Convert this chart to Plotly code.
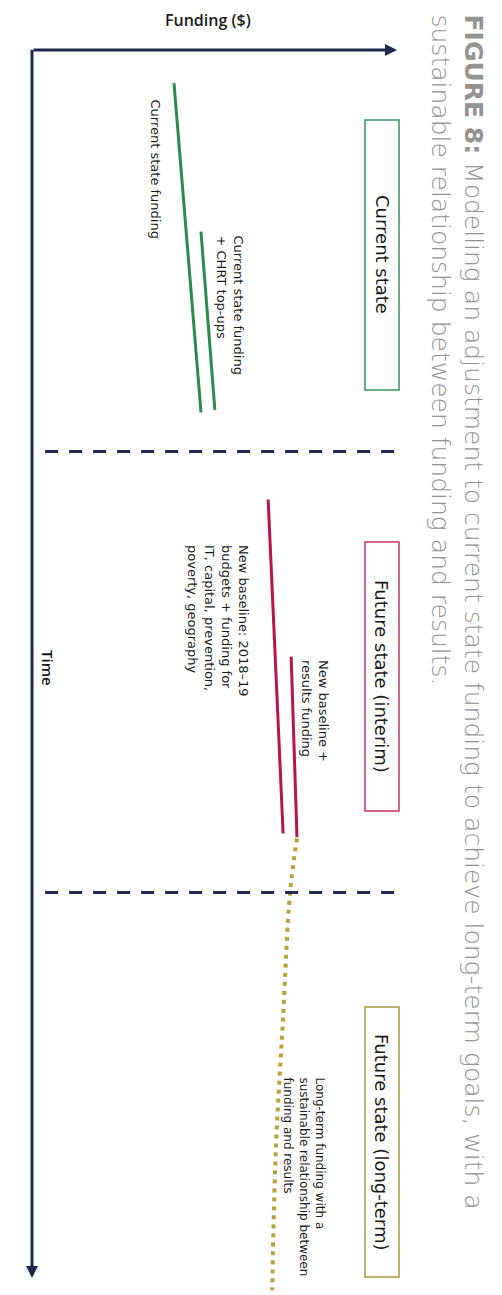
import plotly.graph_objects as go

# funding index (0 = time axis, 100 = arrow tip) vs time index (0 = top, 100 = arrow tip)
current_time = [2.7, 29.5]
current_funding = [38.9, 46.3]
chrt_time = [14.8, 29.3]
chrt_funding = [46.3, 50.1]
baseline_time = [36.6, 63.8]
baseline_funding = [64.7, 68.8]
results_time = [49.4, 64.1]
results_funding = [71.0, 72.6]
longterm_time = [64.2, 68.6, 78.7, 89.6, 101.0]
longterm_funding = [72.6, 70.7, 68.8, 66.8, 65.8]
phase_breaks = [32.7, 68.6]

W, H = 502, 1295
# axis ranges so funding 0..100 -> x 32..397 px, time 0..100 -> y 50..1278 px
fx = 3.65
ty = 12.28
x_range = [-32 / fx, (W - 32) / fx]
y_range = [(H - 50) / ty, -50 / ty]

def px(x):
    return x / W

def py(y):
    return 1 - y / H

NAVY = '#1d2a4b'
GREEN = '#2b8a4c'
RED = '#b8164b'
GOLD = '#b9a13c'
FONT = 'DejaVu Sans'

fig = go.Figure()

for t, f, c in [(current_time, current_funding, GREEN),
                (chrt_time, chrt_funding, GREEN),
                (baseline_time, baseline_funding, RED),
                (results_time, results_funding, RED)]:
    fig.add_trace(go.Scatter(x=f, y=t, mode='lines',
                             line=dict(color=c, width=3), hoverinfo='skip'))

fig.add_trace(go.Scatter(x=longterm_funding, y=longterm_time, mode='lines',
                         line=dict(color=GOLD, width=4, dash='4px,5px', shape='spline'),
                         hoverinfo='skip'))

for b in phase_breaks:
    fig.add_trace(go.Scatter(x=[3.6, 100.3], y=[b, b], mode='lines',
                             line=dict(color=NAVY, width=3, dash='13px,11px'),
                             hoverinfo='skip'))

shapes = []
for (y0, y1, c) in [(120, 390, '#3f8f5f'), (542, 811, '#c2345f'), (1007, 1277, '#a89840')]:
    shapes.append(dict(type='rect', xref='paper', yref='paper',
                       x0=px(365), x1=px(399), y0=py(y1), y1=py(y0),
                       line=dict(color=c, width=1.5), fillcolor='rgba(0,0,0,0)'))

annotations = [
    # axes
    dict(x=100, y=0, ax=0, ay=0, xref='x', yref='y', axref='x', ayref='y',
         text='', showarrow=True, arrowhead=2, arrowsize=0.8, arrowwidth=3,
         arrowcolor=NAVY, standoff=0, startstandoff=0),
    dict(x=0, y=100, ax=0, ay=-0.15, xref='x', yref='y', axref='x', ayref='y',
         text='', showarrow=True, arrowhead=2, arrowsize=0.8, arrowwidth=3,
         arrowcolor=NAVY, standoff=0, startstandoff=0),
]

def label(text, x, y, size, yanchor='top', color='#1a1a1a', angle=90, xanchor='center',
          weight='normal', family=FONT):
    annotations.append(dict(text=text, x=px(x), y=py(y), xref='paper', yref='paper',
                            showarrow=False, textangle=angle, align='left',
                            xanchor=xanchor, yanchor=yanchor,
                            font=dict(family=family, size=size, color=color, weight=weight)))

label('Time', 48, 668, 15, yanchor='middle', weight=600, family='Open Sans')
label('Funding ($)', 208, 20, 16, yanchor='middle', angle=0, weight=600, family='Open Sans')
label('Current state funding', 155, 97, 13)
label('Current state funding<br>+ CHRT top-ups', 230, 233, 13)
label('Current state', 382, 254, 18, yanchor='middle')
label('New baseline: 2018–19<br>budgets + funding for<br>IT, capital, prevention,<br>poverty, geography',
      218, 543, 13)
label('New baseline +<br>results funding', 315, 658, 13)
label('Future state (interim)', 382, 676, 18, yanchor='middle')
label('Long-term funding with a<br>sustainable relationship between<br>funding and results',
      304, 1075, 12)
label('Future state (long-term)', 382, 1142, 18, yanchor='middle')
label('<b>FIGURE 8:</b> Modelling an adjustment to current state funding to achieve long-term goals, with a'
      '<br>sustainable relationship between funding and results.',
      457, 12, 25, color='#939393', weight=300)

fig.update_layout(
    width=W, height=H,
    margin=dict(l=0, r=0, t=0, b=0),
    paper_bgcolor='white', plot_bgcolor='white',
    showlegend=False,
    xaxis=dict(range=x_range, visible=False, fixedrange=True),
    yaxis=dict(range=y_range, visible=False, fixedrange=True),
    shapes=shapes,
    annotations=annotations,
)

fig.write_html('out.html', config={'displayModeBar': False},
               post_script="document.body.style.margin='0';")
